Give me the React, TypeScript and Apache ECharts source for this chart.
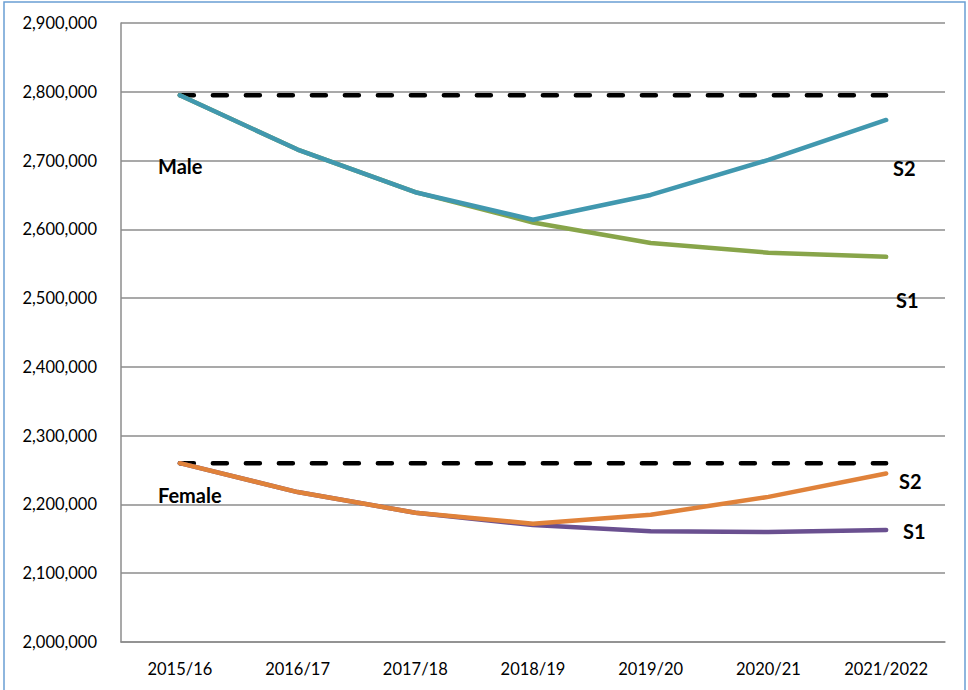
import React, { useEffect, useRef } from "react";
import * as echarts from "echarts";

const years = ["2015/16", "2016/17", "2017/18", "2018/19", "2019/20", "2020/21", "2021/2022"];

const maleBaseline = [2795000, 2795000, 2795000, 2795000, 2795000, 2795000, 2795000];
const maleS1 = [2795000, 2716000, 2654000, 2610000, 2580000, 2566000, 2560000];
const maleS2 = [2795000, 2716000, 2654000, 2614000, 2650000, 2701000, 2759000];

const femaleBaseline = [2260000, 2260000, 2260000, 2260000, 2260000, 2260000, 2260000];
const femaleS1 = [2260000, 2218000, 2188000, 2170000, 2161000, 2160000, 2163000];
const femaleS2 = [2260000, 2218000, 2188000, 2172000, 2185000, 2211000, 2245000];

const yMin = 2000000;
const yMax = 2900000;
const yStep = 100000;

const FONT = "Lato, 'Open Sans', sans-serif";

const fmt = (v: number) => v.toLocaleString("en-US");

export default function App() {
  const ref = useRef<HTMLDivElement>(null);

  useEffect(() => {
    if (!ref.current) return;
    const chart = echarts.init(ref.current, null, { renderer: "svg" });

    const dashed = (data: number[]) => ({
      type: "line",
      data,
      symbol: "none",
      silent: true,
      z: 2,
      lineStyle: { color: "#000000", width: 4.5, type: [14, 19], cap: "round" },
    });
    const solid = (data: number[], color: string, z: number) => ({
      type: "line",
      data,
      symbol: "none",
      z,
      lineStyle: { color, width: 4.5, cap: "round", join: "round" },
    });

    const label = (text: string, x: number, y: number) => ({
      type: "text",
      left: x,
      top: y - 12,
      style: { text, fill: "#000", font: `bold 20px ${FONT}` },
      z: 10,
    });

    chart.setOption({
      animation: false,
      backgroundColor: "#ffffff",
      grid: { left: 121, right: 23, top: 23, bottom: 48, containLabel: false },
      xAxis: {
        type: "category",
        data: years,
        boundaryGap: true,
        axisTick: { show: false },
        axisLine: { show: true, lineStyle: { color: "#8c8c8c", width: 1.5 } },
        axisLabel: { color: "#000", fontFamily: FONT, fontSize: 16.5, margin: 18 },
        splitLine: { show: false },
      },
      yAxis: {
        type: "value",
        min: yMin,
        max: yMax,
        interval: yStep,
        axisTick: { show: false },
        axisLine: { show: true, lineStyle: { color: "#8c8c8c", width: 1.5 } },
        axisLabel: {
          color: "#000",
          fontFamily: FONT,
          fontSize: 16.5,
          margin: 24,
          formatter: (v: number) => fmt(v),
        },
        splitLine: { show: true, lineStyle: { color: "#8c8c8c", width: 1.5 } },
      },
      series: [
        dashed(maleBaseline),
        dashed(femaleBaseline),
        solid(maleS1, "#88a54a", 3),
        solid(maleS2, "#4198af", 4),
        solid(femaleS1, "#6a5090", 3),
        solid(femaleS2, "#e0823a", 4),
      ],
      graphic: [
        {
          type: "rect",
          shape: { x: 4, y: 2, width: 961, height: 720 },
          style: { fill: "none", stroke: "#6a9fd4", lineWidth: 1.5 },
          silent: true,
          z: 0,
        },
        label("Male", 158, 168),
        label("Female", 158, 497),
        label("S2", 893, 170),
        label("S1", 896, 302),
        label("S2", 899, 483),
        label("S1", 903, 533),
      ],
    });

    return () => chart.dispose();
  }, []);

  return (
    <div
      ref={ref}
      style={{ position: "fixed", left: 0, top: 0, width: 968, height: 690, background: "#fff" }}
    />
  );
}
